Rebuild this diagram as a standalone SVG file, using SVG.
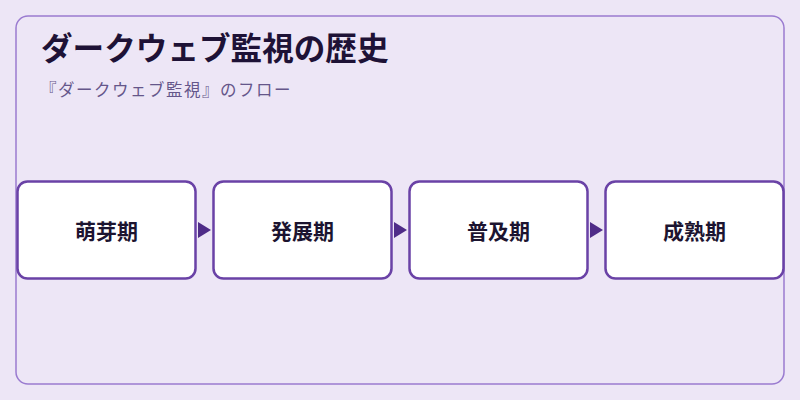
<svg xmlns="http://www.w3.org/2000/svg" width="800" height="400" viewBox="0 0 800 400">
<defs>
<style>
.node rect{fill:#ffffff;stroke:#6a42a6;stroke-width:2.5}
.node text{font-family:"Noto Sans CJK JP","Noto Sans",sans-serif;font-size:21px;font-weight:bold;fill:#1c1430;text-anchor:middle}
.title{font-family:"Noto Sans CJK JP","Noto Sans",sans-serif;font-size:31.6px;font-weight:bold;fill:#1e1236}
.sub{font-family:"Noto Sans CJK JP","Noto Sans",sans-serif;font-size:16.5px;letter-spacing:1.5px;fill:#65568a}
.conn path{fill:#4f2c88;stroke:none}
</style>
</defs>
<rect x="0" y="0" width="800" height="400" fill="#ede6f6"/>
<rect x="16" y="16" width="768" height="368" rx="12" fill="#ede6f6" stroke="#9a7bd0" stroke-width="1.5"/>
<text class="title" x="41" y="60">ダークウェブ監視の歴史</text>
<text class="sub" x="40" y="96">『ダークウェブ監視』のフロー</text>
<g id="connectors" class="conn">
<path d="M198,222 L211,230 L198,238 Z"/>
<path d="M394,222 L407,230 L394,238 Z"/>
<path d="M590,222 L603,230 L590,238 Z"/>
</g>
<g id="node1" class="node"><rect x="17.5" y="181.5" width="178" height="97" rx="10"/><text x="106.5" y="239">萌芽期</text></g>
<g id="node2" class="node"><rect x="213.5" y="181.5" width="178" height="97" rx="10"/><text x="302.5" y="239">発展期</text></g>
<g id="node3" class="node"><rect x="409.5" y="181.5" width="178" height="97" rx="10"/><text x="498.5" y="239">普及期</text></g>
<g id="node4" class="node"><rect x="605.5" y="181.5" width="178" height="97" rx="10"/><text x="694.5" y="239">成熟期</text></g>
</svg>
